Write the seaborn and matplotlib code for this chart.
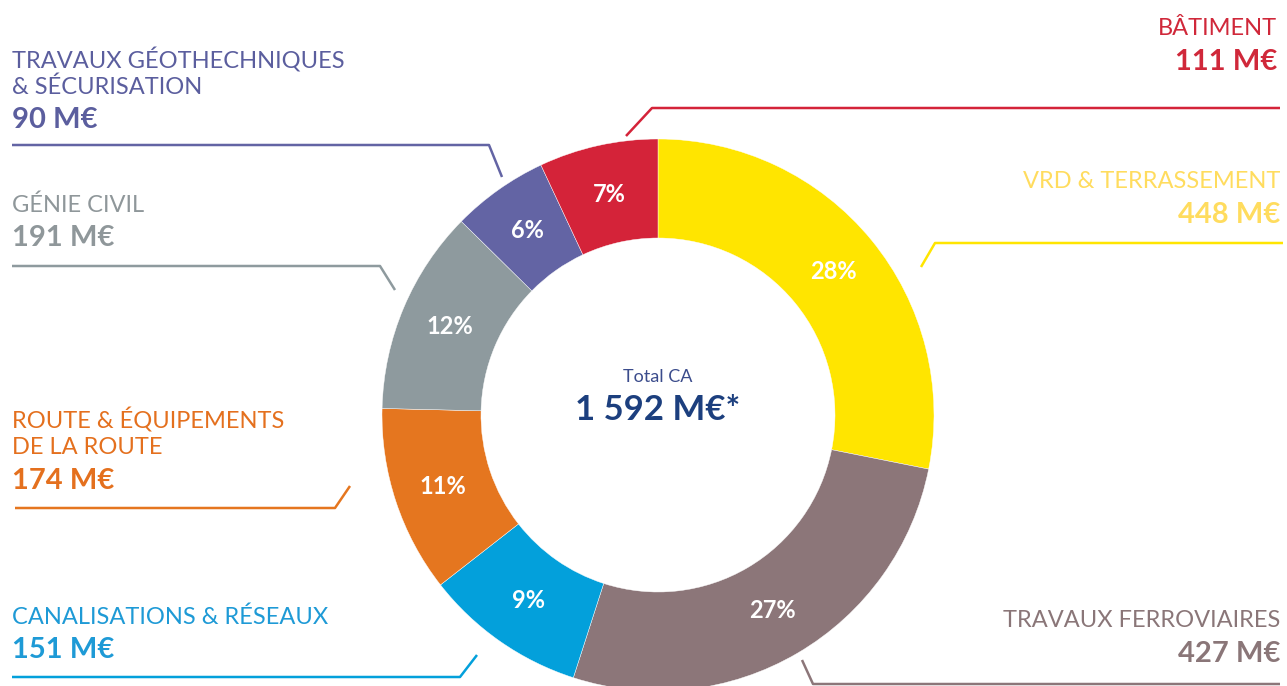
import numpy as np
import pandas as pd
import seaborn as sns
import matplotlib.pyplot as plt

# segments clockwise from 12 o'clock
categories = ["VRD & TERRASSEMENT", "TRAVAUX FERROVIAIRES", "CANALISATIONS & RÉSEAUX",
              "ROUTE & ÉQUIPEMENTS\nDE LA ROUTE", "GÉNIE CIVIL",
              "TRAVAUX GÉOTHECHNIQUES\n& SÉCURISATION", "BÂTIMENT"]
values = [448, 427, 151, 174, 191, 90, 111]
amount_labels = ["448 M€", "427 M€", "151 M€", "174 M€", "191 M€", "90 M€", "111 M€"]
wedge_colors = ["#FFE500", "#8C7679", "#03A0DB", "#E5761F", "#8E9A9E", "#6364A4", "#D42339"]
text_colors = ["#FFDC5E", "#8A7678", "#1E9AD6", "#E4701E", "#8F979A", "#5B5E9E", "#D0283A"]
total_label = "1 592 M€*"

df = pd.DataFrame({"category": categories, "value": values})

sns.set_theme(style="white")
plt.rcParams["font.family"] = ["Lato", "DejaVu Sans"]

fig = plt.figure(figsize=(12.87, 6.86), dpi=100)
ax = fig.add_axes([0, 0, 1, 1])

# pixel-like coordinates, y pointing down
cx, cy, R = 658, 415, 276
palette = sns.color_palette(wedge_colors)
ax.pie(df["value"], colors=palette, center=(cx, cy), radius=R,
       startangle=-90, counterclock=True,
       wedgeprops=dict(width=99, linewidth=0.3, edgecolor="white"),
       autopct=lambda p: f"{round(p)}%", pctdistance=0.82,
       textprops=dict(color="white", fontsize=17, fontweight="bold"))
ax.set_xlim(0, 1287)
ax.set_ylim(686, 0)
ax.set_aspect("equal")
ax.axis("off")

# centre
ax.text(cx, 377, "Total CA", ha="center", va="center", fontsize=13, color="#3B4C8C")
ax.text(cx, 410, total_label, ha="center", va="center", fontsize=25,
        fontweight="bold", color="#1C3F7E")

# labels: (x, y of first line top, alignment)
label_pos = {
    0: (1280, 171, "right"),
    1: (1280, 610, "right"),
    2: (12, 606, "left"),
    3: (12, 408, "left"),
    4: (12, 194, "left"),
    5: (12, 47, "left"),
    6: (1277, 18, "right"),
}
line_h = 29
for i, (x, y, ha) in label_pos.items():
    lines = categories[i].split("\n")
    for k, ln in enumerate(lines):
        ax.text(x, y + k * line_h, ln, ha=ha, va="top", fontsize=17,
                fontweight="normal", color=text_colors[i])
    ax.text(x, y + len(lines) * line_h + 2, amount_labels[i], ha=ha, va="top",
            fontsize=21, fontweight="bold", color=text_colors[i])

# leader lines
leaders = {
    0: [(921, 267), (935, 243), (1283, 243)],
    1: [(802, 660), (813, 684), (1280, 684)],
    2: [(477, 655), (460, 677), (12, 677)],
    3: [(350, 486), (335, 508), (15, 508)],
    4: [(395, 290), (380, 266), (12, 266)],
    5: [(502, 177), (489, 145), (12, 145)],
    6: [(626, 136), (652, 108), (1280, 108)],
}
for i, pts in leaders.items():
    xs, ys = zip(*pts)
    ax.plot(xs, ys, color=wedge_colors[i], lw=1.8, solid_capstyle="butt")

fig.savefig("out.png", dpi=100)
